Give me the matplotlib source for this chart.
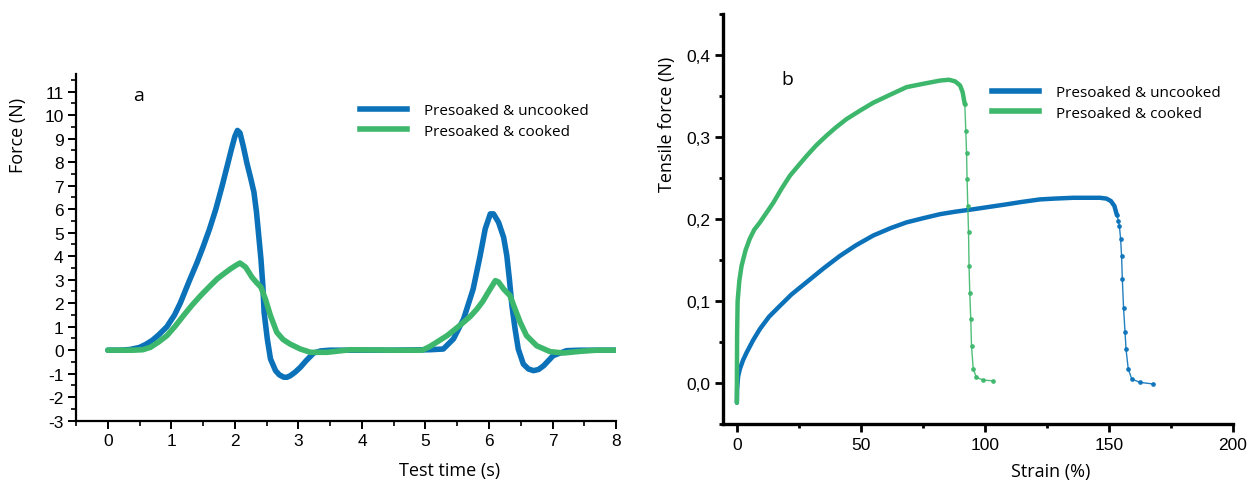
import numpy as np
import matplotlib
matplotlib.use("Agg")
import matplotlib.pyplot as plt
from matplotlib.ticker import MultipleLocator, FuncFormatter
from matplotlib.lines import Line2D

BLUE = "#0b72ba"
GREEN = "#3db76b"

# (a) force vs test time, two compression cycles
t_unc = [0.0, 0.2, 0.35, 0.5, 0.6, 0.7, 0.8, 0.93, 1.05, 1.14, 1.29, 1.4, 1.5,
         1.6, 1.7, 1.8, 1.88, 1.95, 2.0, 2.04, 2.08, 2.13, 2.19, 2.25, 2.3,
         2.34, 2.37, 2.41, 2.44, 2.46, 2.51, 2.56, 2.64, 2.7, 2.77, 2.82, 2.87,
         2.95, 3.03, 3.12, 3.24, 3.35, 3.5, 4.0, 4.5, 5.07, 5.28, 5.44, 5.6,
         5.75, 5.86, 5.94, 6.02, 6.07, 6.15, 6.23, 6.28, 6.32, 6.36, 6.41, 6.46,
         6.54, 6.62, 6.7, 6.78, 6.86, 7.01, 7.22, 7.43, 8.0]
f_unc = [0.0, 0.0, 0.03, 0.12, 0.25, 0.42, 0.65, 1.0, 1.5, 2.0, 3.0, 3.7, 4.4,
         5.15, 6.0, 7.0, 7.85, 8.6, 9.1, 9.35, 9.25, 8.7, 7.95, 7.3, 6.72,
         5.87, 5.02, 3.88, 2.74, 1.61, 0.48, -0.37, -0.87, -1.05, -1.15, -1.15, -1.09,
         -0.93, -0.73, -0.45, -0.12, -0.03, 0.0, 0.0, 0.0, 0.02, 0.05, 0.48, 1.33,
         2.6, 4.02, 5.16, 5.8, 5.8, 5.44, 4.8, 4.02, 3.03, 1.9, 0.9, 0.05,
         -0.59, -0.8, -0.87, -0.82, -0.66, -0.23, -0.02, 0.0, 0.0]

t_ck = [0.0, 0.4, 0.55, 0.67, 0.8, 0.93, 1.06, 1.19, 1.32, 1.46, 1.59, 1.72,
        1.83, 1.93, 2.01, 2.08, 2.17, 2.27, 2.34, 2.41, 2.48, 2.56, 2.66, 2.76,
        2.87, 3.03, 3.19, 3.45, 3.82, 4.5, 4.95, 5.07, 5.2, 5.34, 5.47, 5.6,
        5.71, 5.81, 5.9, 5.97, 6.04, 6.1, 6.15, 6.23, 6.33, 6.41, 6.49, 6.59,
        6.75, 6.96, 7.17, 7.43, 7.69, 8.05]
f_ck = [0.0, 0.0, 0.02, 0.12, 0.35, 0.62, 1.02, 1.47, 1.9, 2.32, 2.68, 3.03,
        3.26, 3.46, 3.6, 3.71, 3.53, 3.1, 2.88, 2.68, 2.18, 1.47, 0.76, 0.45,
        0.26, 0.05, -0.09, -0.09, 0.02, 0.0, 0.0, 0.16, 0.38, 0.62, 0.9, 1.19,
        1.45, 1.75, 2.07, 2.39, 2.7, 2.96, 2.9, 2.6, 2.32, 1.75, 1.19, 0.62,
        0.19, -0.06, -0.12, -0.05, 0.0, 0.0]

# (b) tensile force vs strain; the part after the peak is sparsely sampled
s_unc = [0.0, 0.1, 0.5, 1.2, 2.5, 3.9, 6.5, 9.3, 13.0, 17.3, 22.0, 28.1, 35.0,
         41.5, 48.0, 55.0, 62.0, 68.4, 75.0, 81.9, 88.0, 95.3, 102.0, 108.7,
         115.0, 122.2, 128.0, 135.6, 142.0, 146.4, 149.0, 150.8, 152.2, 153.2,
         153.8, 154.2, 154.7, 155.1, 155.4, 155.9, 156.5, 156.9, 157.8, 159.2,
         162.5, 167.9]
tf_unc = [-0.024, -0.007, 0.008, 0.017, 0.028, 0.037, 0.052, 0.066, 0.081, 0.094,
          0.108, 0.123, 0.14, 0.155, 0.168, 0.18, 0.189, 0.196, 0.201, 0.206,
          0.209, 0.212, 0.215, 0.218, 0.221, 0.224, 0.225, 0.226, 0.226, 0.226,
          0.225, 0.222, 0.216, 0.205, 0.198, 0.192, 0.176, 0.155, 0.127, 0.091,
          0.062, 0.041, 0.017, 0.0049, 0.0008, -0.0012]
peak_unc = 33

s_ck = [0.0, 0.0, 0.1, 0.3, 1.0, 1.9, 3.5, 5.2, 7.0, 9.3, 12.0, 14.7, 18.0,
        21.4, 25.0, 28.1, 32.0, 36.2, 40.0, 44.2, 50.0, 55.0, 62.0, 68.4, 75.0,
        81.9, 85.5, 88.0, 90.0, 91.0, 91.9, 92.3, 92.6, 92.8, 93.1, 93.4, 93.6,
        93.9, 94.3, 94.6, 95.3, 96.6, 99.3, 103.3]
tf_ck = [-0.024, 0.0, 0.06, 0.1, 0.125, 0.143, 0.162, 0.176, 0.187, 0.196, 0.208,
         0.22, 0.237, 0.253, 0.266, 0.277, 0.29, 0.302, 0.312, 0.322, 0.333,
         0.342, 0.352, 0.361, 0.365, 0.369, 0.37, 0.368, 0.363, 0.355, 0.34,
         0.307, 0.281, 0.249, 0.216, 0.184, 0.143, 0.11, 0.078, 0.045, 0.017,
         0.0068, 0.0036, 0.0027]
peak_ck = 30

labels = ["Presoaked & uncooked", "Presoaked & cooked"]

plt.rcParams["font.family"] = ["Liberation Sans", "DejaVu Sans"]
plt.rcParams["axes.unicode_minus"] = False
LBL = {"family": "Open Sans", "size": 13}

fig = plt.figure(figsize=(12.53, 4.85), dpi=100)
ax1 = fig.add_axes([0.0607, 0.1305, 0.431, 0.7148])
ax2 = fig.add_axes([0.577, 0.1237, 0.407, 0.845])

# panel a
ax1.plot(t_unc, f_unc, color=BLUE, lw=4, solid_capstyle="round", solid_joinstyle="round")
ax1.plot(t_ck, f_ck, color=GREEN, lw=4, solid_capstyle="round", solid_joinstyle="round")
ax1.set_xlim(-0.5, 8)
ax1.set_ylim(-3, 11.75)
ax1.xaxis.set_major_locator(MultipleLocator(1))
ax1.xaxis.set_minor_locator(MultipleLocator(0.5))
ax1.yaxis.set_major_locator(MultipleLocator(1))
ax1.yaxis.set_minor_locator(MultipleLocator(0.5))
ax1.spines[["top", "right"]].set_visible(False)
for sp in ["left", "bottom"]:
    ax1.spines[sp].set_linewidth(1.6)
ax1.tick_params(which="major", length=6, width=1.4, labelsize=12.5, pad=3)
ax1.tick_params(which="minor", length=3.5, width=1.2)
ax1.set_xlabel("Test time (s)", fontdict=LBL)
ax1.set_ylabel("Force (N)", fontdict=LBL)
ax1.xaxis.set_label_coords(0.692, -0.117)
ax1.yaxis.set_label_coords(-0.09, 0.827)
ax1.text(0.105, 0.965, "a", transform=ax1.transAxes, fontsize=14,
         family="Open Sans", va="top")

handles = [Line2D([], [], color=BLUE, lw=4), Line2D([], [], color=GREEN, lw=4)]
ax1.legend(handles, labels, loc="upper left", bbox_to_anchor=(0.5, 0.955),
           frameon=False, prop={"family": "Open Sans", "size": 11},
           handlelength=3.1, handletextpad=1.1, labelspacing=0.35)

# panel b
for s, f, pk, c in [(s_unc, tf_unc, peak_unc, BLUE), (s_ck, tf_ck, peak_ck, GREEN)]:
    ax2.plot(s[:pk + 1], f[:pk + 1], color=c, lw=3.2, solid_capstyle="round",
             solid_joinstyle="round")
    ax2.plot(s[pk:], f[pk:], color=c, lw=1.0, marker="o", ms=2.4, alpha=0.9)
ax2.set_xlim(-5.6, 200)
ax2.set_ylim(-0.05, 0.45)
ax2.xaxis.set_major_locator(MultipleLocator(50))
ax2.xaxis.set_minor_locator(MultipleLocator(25))
ax2.yaxis.set_major_locator(MultipleLocator(0.1))
ax2.yaxis.set_minor_locator(MultipleLocator(0.05))
ax2.yaxis.set_major_formatter(FuncFormatter(lambda v, p: f"{v:.1f}".replace(".", ",")))
ax2.spines[["top", "right"]].set_visible(False)
for sp in ["left", "bottom"]:
    ax2.spines[sp].set_linewidth(2.4)
ax2.tick_params(which="major", length=6, width=2, labelsize=12.5, pad=3)
ax2.tick_params(which="minor", length=3, width=2)
ax2.set_xlabel("Strain (%)", fontdict=LBL)
ax2.set_ylabel("Tensile force (N)", fontdict=LBL)
ax2.xaxis.set_label_coords(0.643, -0.092)
ax2.yaxis.set_label_coords(-0.092, 0.734)
ax2.text(0.115, 0.865, "b", transform=ax2.transAxes, fontsize=14,
         family="Open Sans", va="top")

handles = [Line2D([], [], color=BLUE, lw=4), Line2D([], [], color=GREEN, lw=4)]
ax2.legend(handles, labels, loc="upper left", bbox_to_anchor=(0.5, 0.86),
           frameon=False, prop={"family": "Open Sans", "size": 11},
           handlelength=3.1, handletextpad=1.1, labelspacing=0.35)

fig.savefig("out.png", dpi=100)
